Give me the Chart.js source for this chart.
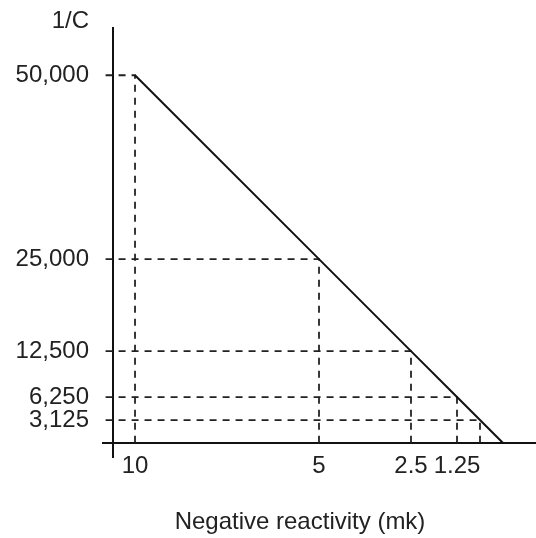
<!DOCTYPE html>
<html>
<head>
<meta charset="utf-8">
<script src="https://cdn.jsdelivr.net/npm/chart.js@4/dist/chart.umd.min.js"></script>
<style>
  html, body { margin: 0; padding: 0; background: #fff; }
  canvas { display: block; }
</style>
</head>
<body>
<canvas id="reactChart" width="536" height="538"></canvas>
<script>
// values
const reactivity = [10, 5, 2.5, 1.25, 0.625];
const inverseCount = [50000, 25000, 12500, 6250, 3125];
const xTickValues = [10, 5, 2.5, 1.25];
const yTickValues = [50000, 25000, 12500, 6250, 3125];
const yAxisTitle = "1/C";
const xAxisTitle = "Negative reactivity (mk)";

const FONT = '"Liberation Sans", Arial, sans-serif';
const FONT_SIZE = 24;
const INK = "#222";

// axis ranges (x runs backwards, 10 on the left)
const xMin = -0.897, xMax = 10.87;
const yMin = -1897, yMax = 56369;
const yAxisAt = 10.6;   // where the vertical axis crosses
const guideStart = 10.8;

const linePoints = reactivity.map((r, i) => ({ x: r, y: inverseCount[i] }));
linePoints.push({ x: 0, y: 0 });

const guides = reactivity.map((r, i) => ({
  data: [
    { x: guideStart, y: inverseCount[i] },
    { x: r, y: inverseCount[i] },
    { x: r, y: 0 },
  ],
  borderColor: INK,
  borderWidth: 1.8,
  borderDash: [7, 6],
  pointRadius: 0,
  fill: false,
  tension: 0,
}));

const textPlugin = {
  id: "axisText",
  afterDraw(chart) {
    const c = chart.ctx;
    c.save();
    c.fillStyle = INK;
    c.font = FONT_SIZE + "px " + FONT;
    c.textBaseline = "middle";
    c.textAlign = "right";
    c.fillText(yAxisTitle, 89, 21);
    c.textAlign = "center";
    c.fillText(xAxisTitle, 300, 522);
    c.restore();
  },
};

const ctx = document.getElementById("reactChart").getContext("2d");
new Chart(ctx, {
  type: "line",
  data: {
    datasets: [
      {
        data: linePoints,
        borderColor: "#111",
        borderWidth: 2,
        pointRadius: 0,
        fill: false,
        tension: 0,
      },
      ...guides,
    ],
  },
  options: {
    responsive: false,
    animation: false,
    layout: { padding: { left: 0, right: 0, top: 27, bottom: 81 } },
    plugins: {
      legend: { display: false },
      tooltip: { enabled: false },
    },
    scales: {
      x: {
        type: "linear",
        reverse: true,
        min: xMin,
        max: xMax,
        position: { y: 0 },
        grid: { drawOnChartArea: false, drawTicks: false },
        border: { color: "#111", width: 2 },
        ticks: {
          color: INK,
          font: { family: FONT, size: FONT_SIZE },
          padding: 9,
          autoSkip: false,
          maxRotation: 0,
          callback: (v) => String(v),
        },
        afterBuildTicks: (s) => {
          s.ticks = xTickValues.map((v) => ({ value: v }));
        },
      },
      y: {
        type: "linear",
        min: yMin,
        max: yMax,
        position: { x: yAxisAt },
        grid: { drawOnChartArea: false, drawTicks: false },
        border: { color: "#111", width: 2 },
        ticks: { display: false },
      },
      // tick labels for the vertical axis, kept in the left margin
      yLabels: {
        type: "linear",
        min: yMin,
        max: yMax,
        position: "left",
        grid: { display: false, drawTicks: false },
        border: { display: false },
        ticks: {
          color: INK,
          font: { family: FONT, size: FONT_SIZE },
          padding: 14,
          autoSkip: false,
          callback: (v) => v.toLocaleString("en-US"),
        },
        afterBuildTicks: (s) => {
          s.ticks = yTickValues.map((v) => ({ value: v }));
        },
        afterFit: (s) => {
          s.width = 103;
        },
      },
    },
  },
  plugins: [textPlugin],
});
</script>
</body>
</html>
